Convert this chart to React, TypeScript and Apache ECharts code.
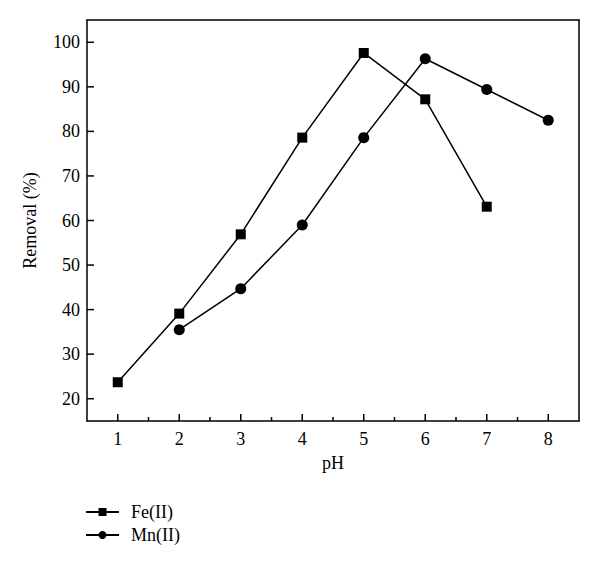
import React, { useEffect, useRef } from "react";
import * as echarts from "echarts";

const phValues = [1, 2, 3, 4, 5, 6, 7, 8];
const minorX = [1.5, 2.5, 3.5, 4.5, 5.5, 6.5, 7.5];
const yTicks = [20, 30, 40, 50, 60, 70, 80, 90, 100];
const feX = [1, 2, 3, 4, 5, 6, 7];
const feY = [23.7, 39.1, 56.9, 78.6, 97.6, 87.2, 63.1];
const mnX = [2, 3, 4, 5, 6, 7, 8];
const mnY = [35.5, 44.7, 59.0, 78.6, 96.3, 89.4, 82.5];

const X_MIN = 0.5;
const X_MAX = 8.5;
const Y_MIN = 15;
const Y_MAX = 105;

const FONT = "Liberation Serif";

export default function App() {
  const ref = useRef<HTMLDivElement>(null);
  useEffect(() => {
    if (!ref.current) return;
    const chart = echarts.init(ref.current, undefined, { renderer: "svg" });
    const axisLine = { show: true, onZero: false, lineStyle: { color: "#000", width: 1.5 } };
    const frameAxis = {
      type: "value",
      axisLine,
      axisTick: { show: false },
      axisLabel: { show: false },
      splitLine: { show: false },
    };
    const tickSeries = (name: string, data: number[][], dx: number, dy: number) => ({
      name,
      type: "custom",
      silent: true,
      clip: false,
      z: 5,
      data,
      renderItem: (_params: any, api: any) => {
        const p = api.coord([api.value(0), api.value(1)]);
        return {
          type: "line",
          shape: { x1: p[0], y1: p[1], x2: p[0] + dx, y2: p[1] + dy },
          style: { stroke: "#000", lineWidth: 1.5 },
        };
      },
    });
    chart.setOption({
      animation: false,
      backgroundColor: "#fff",
      grid: { left: 87, top: 20, right: 21, bottom: 147 },
      legend: {
        orient: "vertical",
        left: 80,
        top: 498,
        itemWidth: 33,
        itemHeight: 10,
        itemGap: 5,
        textStyle: { fontFamily: FONT, fontSize: 18, color: "#000", padding: [0, 0, 0, 7] },
        data: ["Fe(II)", "Mn(II)"],
      },
      xAxis: [
        {
          type: "value",
          min: X_MIN,
          max: X_MAX,
          position: "bottom",
          name: "pH",
          nameLocation: "middle",
          nameGap: 33,
          nameTextStyle: { fontFamily: FONT, fontSize: 18, color: "#000" },
          axisLine,
          axisTick: { show: false },
          axisLabel: { show: true, customValues: phValues, margin: 9, fontFamily: FONT, fontSize: 18, color: "#000" },
          splitLine: { show: false },
        },
        { ...frameAxis, min: X_MIN, max: X_MAX, position: "top" },
      ],
      yAxis: [
        {
          type: "value",
          min: Y_MIN,
          max: Y_MAX,
          position: "left",
          name: "Removal (%)",
          nameLocation: "middle",
          nameGap: 48,
          nameTextStyle: { fontFamily: FONT, fontSize: 18, color: "#000" },
          axisLine,
          axisTick: { show: false },
          axisLabel: { show: true, customValues: yTicks, margin: 7, fontFamily: FONT, fontSize: 18, color: "#000" },
          splitLine: { show: false },
        },
        { ...frameAxis, min: Y_MIN, max: Y_MAX, position: "right" },
      ],
      series: [
        tickSeries("xMajor", phValues.map((v) => [v, Y_MIN]), 0, -7),
        tickSeries("xMinor", minorX.map((v) => [v, Y_MIN]), 0, -4),
        tickSeries("yMajor", yTicks.map((v) => [X_MIN, v]), 7, 0),
        {
          name: "Fe(II)",
          type: "line",
          data: feX.map((x, i) => [x, feY[i]]),
          symbol: "rect",
          symbolSize: 10,
          z: 10,
          itemStyle: { color: "#000" },
          lineStyle: { color: "#000", width: 1.5 },
        },
        {
          name: "Mn(II)",
          type: "line",
          data: mnX.map((x, i) => [x, mnY[i]]),
          symbol: "circle",
          symbolSize: 11,
          z: 10,
          itemStyle: { color: "#000" },
          lineStyle: { color: "#000", width: 1.5 },
        },
      ],
    });
    return () => chart.dispose();
  }, []);
  return <div ref={ref} style={{ width: 600, height: 568, margin: -8 }} />;
}
